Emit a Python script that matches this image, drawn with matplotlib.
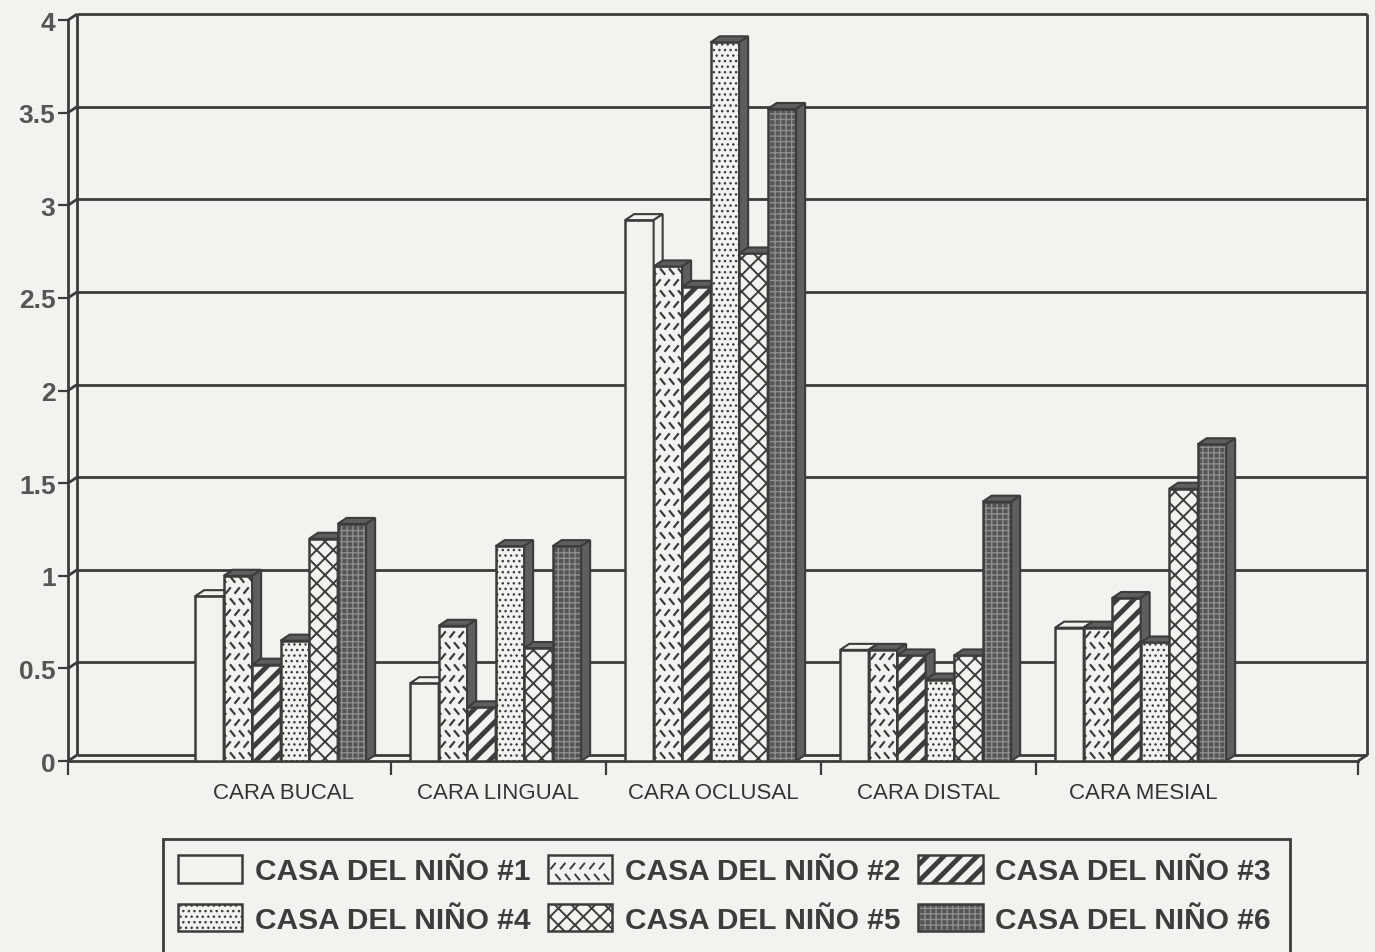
import numpy as np
import matplotlib
matplotlib.use("Agg")
import matplotlib.pyplot as plt
from matplotlib.patches import Rectangle, Polygon, Patch
from matplotlib.collections import LineCollection

# tooth surfaces on the x axis, one series per school
caras = ["CARA BUCAL", "CARA LINGUAL", "CARA OCLUSAL", "CARA DISTAL", "CARA MESIAL"]
casas = ["CASA DEL NIÑO #1", "CASA DEL NIÑO #2", "CASA DEL NIÑO #3",
         "CASA DEL NIÑO #4", "CASA DEL NIÑO #5", "CASA DEL NIÑO #6"]

casa1 = [0.89, 0.42, 2.92, 0.60, 0.72]
casa2 = [1.00, 0.73, 2.67, 0.60, 0.72]
casa3 = [0.52, 0.29, 2.56, 0.57, 0.88]
casa4 = [0.65, 1.16, 3.88, 0.44, 0.64]
casa5 = [1.20, 0.61, 2.74, 0.57, 1.47]
casa6 = [1.28, 1.16, 3.52, 1.40, 1.71]
series = [casa1, casa2, casa3, casa4, casa5, casa6]

yticks = [0, 0.5, 1, 1.5, 2, 2.5, 3, 3.5, 4]
ytick_labels = ["0", "0.5", "1", "1.5", "2", "2.5", "3", "3.5", "4"]

PAPER = "#f2f2ef"
INK = "#3c3c3c"
SHADE = "#5e5e5e"

# fill style of each series: face colour, hatch, hatch colour, hatch width
styles = [
    dict(face=PAPER, hatch=None, hcol=None, hlw=1.0, strokes=False, shade=PAPER),
    dict(face=PAPER, hatch=None, hcol=None, hlw=1.0, strokes=True, shade=SHADE),
    dict(face=PAPER, hatch="//", hcol=INK, hlw=3.5, strokes=False, shade=SHADE),
    dict(face=PAPER, hatch="...", hcol=INK, hlw=1.0, strokes=False, shade=SHADE),
    dict(face=PAPER, hatch="xx", hcol=INK, hlw=1.4, strokes=False, shade=SHADE),
    dict(face="#555555", hatch="+++", hcol="#8e8e8e", hlw=1.0, strokes=False, shade=SHADE),
]

W, H, DPI = 13.75, 9.53, 100
fig = plt.figure(figsize=(W, H), dpi=DPI, facecolor=PAPER)
ax = fig.add_axes([0.0495, 0.2004, 0.9382, 0.7775])
ax.set_facecolor("none")
ax.set_xlim(-1, 5)
ax.set_ylim(0, 4)

# pixel -> data conversion for the 3d depth and the stroke texture
pos = ax.get_position()
px_x = pos.width * W * DPI / 6
px_y = pos.height * H * DPI / 4
dx, dy = 9 / px_x, 6 / px_y

line_kw = dict(color=INK, lw=2, clip_on=False, zorder=1, solid_capstyle="butt")

# back wall: grid lines, frame and floor
for v in yticks:
    ax.plot([-1 + dx, 5 + dx], [v + dy, v + dy], **line_kw)
    ax.plot([-1, -1 + dx], [v, v + dy], **line_kw)
ax.plot([-1 + dx, -1 + dx], [dy, 4 + dy], **line_kw)
ax.plot([5 + dx, 5 + dx], [dy, 4 + dy], **line_kw)
ax.plot([5, 5 + dx], [0, dy], **line_kw)

for s in ["top", "right"]:
    ax.spines[s].set_visible(False)
for s in ["left", "bottom"]:
    ax.spines[s].set_color(INK)
    ax.spines[s].set_linewidth(2)
    ax.spines[s].set_zorder(2)


def stroke_segments(x0, x1, y0, y1, sx, sy, hx, hy):
    segs = []
    row = 0
    y = y0 + sy / 2
    while y < y1 + sy:
        sign = 1 if row % 2 == 0 else -1
        off = 0 if row % 2 == 0 else sx / 2
        x = x0 + off
        while x < x1 + sx:
            segs.append([(x - hx, y + sign * hy), (x + hx, y - sign * hy)])
            x += sx
        y += sy
        row += 1
    return segs


bw = 28.5 / px_x
cats = np.arange(len(caras))
for i, (vals, st) in enumerate(zip(series, styles)):
    x = cats - 0.409 + i * bw
    z = 3 + i
    bars = ax.bar(x, vals, width=bw, align="edge", color=st["face"],
                  edgecolor="none", zorder=z)
    if st["hatch"]:
        hb = ax.bar(x, vals, width=bw, align="edge", fill=False, hatch=st["hatch"],
                    edgecolor=st["hcol"], linewidth=0, zorder=z)
        for p in hb:
            if hasattr(p, "set_hatch_linewidth"):
                p.set_hatch_linewidth(st["hlw"])
    if st["strokes"]:
        for p, xi, v in zip(bars, x, vals):
            segs = stroke_segments(xi, xi + bw, 0, v, 9 / px_x, 11 / px_y,
                                   2.6 / px_x, 3.2 / px_y)
            lc = LineCollection(segs, colors=INK, linewidths=1.6, zorder=z)
            ax.add_collection(lc)
            lc.set_clip_path(p)
    ax.bar(x, vals, width=bw, align="edge", fill=False, edgecolor=INK,
           linewidth=1.8, zorder=z)
    for xi, v in zip(x, vals):
        x1 = xi + bw
        top = Polygon([(xi, v), (x1, v), (x1 + dx, v + dy), (xi + dx, v + dy)],
                      closed=True, facecolor=st["shade"], edgecolor=INK,
                      linewidth=1.5, zorder=z, clip_on=False)
        side = Polygon([(x1, 0), (x1, v), (x1 + dx, v + dy), (x1 + dx, dy)],
                       closed=True, facecolor=st["shade"], edgecolor=INK,
                       linewidth=1.5, zorder=z, clip_on=False)
        ax.add_patch(top)
        ax.add_patch(side)

# axes ticks and labels
ax.set_yticks(yticks)
ax.set_yticklabels(ytick_labels)
ax.tick_params(axis="y", direction="out", length=7, width=1.6, color=INK, pad=2,
               labelsize=19, labelcolor="#555555")
for t in ax.get_yticklabels():
    t.set_fontfamily("Liberation Sans")
    t.set_fontweight("bold")

ax.set_xticks([-1, 0.5, 1.5, 2.5, 3.5, 5])
ax.set_xticklabels([])
ax.tick_params(axis="x", which="major", direction="out", length=10, width=1.6,
               color=INK)
ax.set_xticks(cats, minor=True)
ax.set_xticklabels(caras, minor=True, fontfamily="Liberation Sans", fontsize=16,
                   color="#333333")
ax.tick_params(axis="x", which="minor", length=0, pad=15)


class FaceHandler:
    def __init__(self, st):
        self.st = st

    def legend_artist(self, legend, orig_handle, fontsize, handlebox):
        st = self.st
        x0, y0 = -handlebox.xdescent, -handlebox.ydescent
        w, h = handlebox.width, handlebox.height
        tr = handlebox.get_transform()
        base = Rectangle((x0, y0), w, h, facecolor=st["face"], edgecolor="none",
                         transform=tr)
        handlebox.add_artist(base)
        if st["hatch"]:
            hp = Rectangle((x0, y0), w, h, fill=False, hatch=st["hatch"],
                           edgecolor=st["hcol"], linewidth=0, transform=tr)
            if hasattr(hp, "set_hatch_linewidth"):
                hp.set_hatch_linewidth(st["hlw"])
            handlebox.add_artist(hp)
        if st["strokes"]:
            segs = stroke_segments(x0, x0 + w, y0, y0 + h, 7, 8, 1.9, 2.3)
            segs = [s for s in segs
                    if all(x0 + 1 < px < x0 + w - 1 and y0 + 1 < py < y0 + h - 1
                           for px, py in s)]
            lc = LineCollection(segs, colors=INK, linewidths=1.4, transform=tr)
            handlebox.add_artist(lc)
        edge = Rectangle((x0, y0), w, h, fill=False, edgecolor=INK, linewidth=1.8,
                         transform=tr)
        handlebox.add_artist(edge)
        return edge


proxies = [Patch(label=c) for c in casas]
hmap = {p: FaceHandler(st) for p, st in zip(proxies, styles)}
order = [0, 3, 1, 4, 2, 5]
leg = fig.legend([proxies[k] for k in order], [casas[k] for k in order],
                 handler_map=hmap, ncol=3, loc="upper left",
                 bbox_to_anchor=(178 / 1375, 1 - 856 / 953),
                 bbox_transform=fig.transFigure, frameon=False,
                 borderpad=0, borderaxespad=0, handlelength=2.15,
                 handleheight=1.05, handletextpad=0.42, columnspacing=0.6,
                 labelspacing=0.62,
                 prop=dict(family="Liberation Sans", weight="bold", size=21.5))
for t in leg.get_texts():
    t.set_color(INK)

# legend box, running off the bottom of the page
fig.patches.append(Rectangle((163 / 1375, -0.02), (1290 - 163) / 1375,
                             (953 - 840) / 953 + 0.02, transform=fig.transFigure,
                             fill=False, edgecolor=INK, linewidth=2))

fig.savefig("out.png", dpi=DPI, facecolor=PAPER)
